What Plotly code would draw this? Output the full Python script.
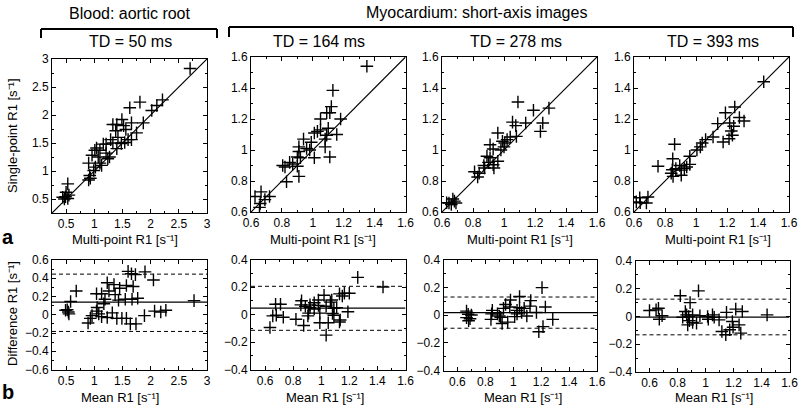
import plotly.graph_objects as go

FONT = "Liberation Sans, Arial, sans-serif"
W, H = 800, 412

# ---------------- data ----------------
# TD = 50 ms (blood)
td50_multi = [2.70, 2.21, 2.11, 2.02, 1.81, 1.63, 1.66, 1.87, 1.49, 1.33, 1.40, 1.52, 1.38, 1.56, 1.75,
              1.42, 1.60, 1.66, 1.48, 1.54, 1.29, 1.33, 1.21, 1.16, 1.04, 1.10, 1.40, 1.01, 0.96, 1.07,
              1.27, 1.21, 1.24, 1.10, 1.13, 0.90, 1.02, 0.99, 0.92, 0.90, 0.93, 0.53, 0.50, 0.44, 0.49,
              0.53, 0.55, 0.47]
td50_single = [2.83, 2.27, 2.17, 2.08, 2.23, 2.13, 1.86, 1.86, 1.92, 1.83, 1.83, 1.81, 1.72, 1.74, 1.68,
               1.60, 1.56, 1.56, 1.49, 1.51, 1.56, 1.50, 1.48, 1.48, 1.41, 1.37, 1.40, 1.37, 1.28, 1.25,
               1.25, 1.32, 1.22, 1.14, 1.10, 1.14, 1.07, 1.01, 0.92, 0.84, 0.87, 0.77, 0.62, 0.53, 0.54,
               0.51, 0.57, 0.50]
td50_mean = [1.60, 1.66, 1.73, 1.90, 2.05, 0.68, 0.58, 0.49, 0.52, 0.54, 0.55, 1.04, 1.13, 1.23, 1.35,
             1.45, 1.57, 1.69, 1.26, 1.37, 1.19, 1.17, 1.43, 1.55, 1.67, 1.77, 2.77, 1.05, 1.04, 1.08,
             0.96, 0.93, 0.89, 1.13, 1.23, 1.32, 1.40, 1.49, 1.57, 1.64, 1.74, 1.89, 2.07, 2.18, 2.27]
td50_diff = [0.475, 0.45, 0.44, 0.47, 0.38, 0.26, 0.145, 0.05, 0.055, 0.03, 0.01, 0.23, 0.23, 0.35, 0.33,
             0.29, 0.32, 0.31, 0.26, 0.22, 0.17, 0.12, 0.16, 0.17, 0.17, 0.18, 0.155, 0.08, 0.04, 0.01,
             -0.01, -0.04, -0.09, -0.02, -0.03, 0.02, -0.04, -0.04, -0.04, -0.10, -0.10, -0.01, 0.04, 0.03, 0.05]
td50_bias, td50_hi, td50_lo = 0.138, 0.445, -0.183

# TD = 164 ms
td164_multi = [1.35, 1.13, 1.12, 1.09, 1.11, 1.05, 1.18, 1.10, 1.03, 1.01, 1.05, 1.09, 1.155, 1.08, 0.94,
               0.99, 0.96, 1.08, 0.91, 0.91, 0.98, 1.01, 1.11, 0.92, 0.90, 0.85, 0.87, 0.805, 0.82, 0.90,
               0.91, 0.83, 0.665, 0.626, 0.72, 0.69, 0.66, 0.655]
td164_single = [1.54, 1.385, 1.28, 1.24, 1.24, 1.20, 1.20, 1.14, 1.12, 1.11, 1.13, 1.095, 1.10, 1.07, 1.07,
                1.05, 1.01, 1.02, 1.02, 0.99, 1.00, 0.95, 0.955, 0.95, 0.955, 0.92, 0.91, 0.90, 0.89, 0.895,
                0.83, 0.795, 0.73, 0.70, 0.70, 0.68, 0.655, 0.63]
td164_mean = [1.26, 1.44, 1.20, 1.165, 1.13, 1.15, 1.02, 1.075, 1.065, 0.98, 0.95, 0.92, 0.86, 0.855, 0.887,
              0.92, 0.95, 0.98, 1.035, 1.11, 1.09, 0.675, 0.71, 0.655, 0.68, 0.73, 0.635, 0.82, 0.875, 0.905,
              0.91, 0.99, 0.99, 1.05, 1.035, 1.08, 1.09, 1.135, 1.13, 1.19]
td164_diff = [0.27, 0.20, 0.155, 0.155, 0.15, 0.135, 0.14, 0.105, 0.09, 0.105, 0.085, 0.07, 0.10, 0.07, 0.06,
              0.05, 0.04, 0.065, 0.06, 0.05, 0.045, 0.075, 0.075, -0.01, -0.005, -0.02, -0.095, -0.035, -0.08, -0.01,
              0.01, 0.01, -0.06, -0.06, -0.15, 0.007, -0.005, -0.04, -0.055, 0.02]
td164_bias, td164_hi, td164_lo = 0.046, 0.205, -0.115

# TD = 278 ms
td278_multi = [1.09, 1.19, 1.29, 1.055, 1.076, 1.14, 1.25, 1.235, 1.08, 0.96, 1.04, 1.02, 0.99, 1.005, 1.00,
               0.91, 0.93, 0.98, 0.89, 0.91, 0.96, 0.90, 0.93, 0.935, 0.87, 0.875, 0.81, 0.84, 0.83, 0.67,
               0.645, 0.63, 0.68, 0.69, 0.66]
td278_single = [1.31, 1.256, 1.27, 1.18, 1.157, 1.174, 1.174, 1.12, 1.088, 1.11, 1.084, 1.067, 1.056, 1.045, 1.02,
                1.034, 1.006, 1.00, 0.96, 0.95, 0.927, 0.92, 0.905, 0.884, 0.90, 0.884, 0.86, 0.85, 0.826, 0.684,
                0.658, 0.66, 0.67, 0.658, 0.648]
td278_mean = [1.206, 1.045, 1.125, 1.12, 0.98, 0.945, 0.975, 1.23, 0.93, 1.045, 1.078, 1.027, 1.06, 1.027, 1.097,
              1.166, 1.01, 0.85, 0.845, 0.84, 0.887, 0.90, 0.91, 0.92, 0.96, 0.665, 0.677, 0.70, 0.69, 0.665,
              0.68, 1.283, 1.213, 1.183]
td278_diff = [0.20, 0.136, 0.106, 0.066, 0.11, 0.078, 0.06, 0.06, 0.05, 0.054, 0.05, 0.035, 0.02, 0.01, -0.005,
              0.02, -0.01, 0.035, 0.01, -0.03, 0.01, -0.005, -0.015, -0.06, -0.05, 0.03, 0.007, 0.002, -0.025, -0.017,
              -0.04, -0.03, -0.082, -0.12]
td278_bias, td278_hi, td278_lo = 0.019, 0.132, -0.094

# TD = 393 ms
td393_multi = [1.437, 1.25, 1.19, 1.28, 1.31, 1.217, 1.14, 1.243, 1.228, 1.235, 1.11, 1.213, 1.175, 1.062, 1.04,
               1.028, 1.006, 0.862, 0.96, 0.96, 0.94, 0.925, 0.905, 0.85, 0.895, 0.87, 0.847, 0.84, 0.852, 0.905,
               0.755, 0.637, 0.69, 0.615, 0.68, 0.64]
td393_single = [1.44, 1.277, 1.24, 1.21, 1.187, 1.174, 1.17, 1.153, 1.123, 1.095, 1.084, 1.073, 1.052, 1.067, 1.045,
                1.02, 1.00, 1.037, 0.96, 0.907, 0.89, 0.88, 0.87, 0.944, 0.90, 0.88, 0.873, 0.85, 0.83, 0.837,
                0.895, 0.692, 0.697, 0.665, 0.658, 0.66]
td393_mean = [0.95, 0.82, 0.89, 0.60, 0.647, 0.664, 0.67, 0.69, 0.856, 0.865, 0.837, 0.88, 0.908, 0.885, 0.873,
              0.908, 0.936, 0.96, 1.015, 1.02, 1.05, 1.062, 1.097, 1.15, 1.216, 1.263, 1.192, 1.24, 1.117, 1.145,
              1.173, 1.197, 1.252, 1.44]
td393_diff = [0.185, 0.15, 0.10, 0.043, 0.048, 0.06, -0.02, 0.005, 0.036, 0.012, -0.005, 0.0, 0.012, -0.03, -0.06,
              -0.043, -0.048, 0.005, 0.0, -0.02, 0.012, -0.005, -0.024, 0.03, 0.053, 0.036, -0.036, -0.06, -0.108, -0.132,
              -0.096, -0.077, -0.12, 0.012]
td393_bias, td393_hi, td393_lo = -0.005, 0.125, -0.132

titles_td = ["TD = 50 ms", "TD = 164 ms", "TD = 278 ms", "TD = 393 ms"]
group_titles = ["Blood: aortic root", "Myocardium: short-axis images"]
xlabel_top = "Multi-point R1 [s\u207b\u00b9]"
xlabel_bottom = "Mean R1 [s\u207b\u00b9]"
ylabel_top = "Single-point R1 [s\u207b\u00b9]"
ylabel_bottom = "Difference R1 [s\u207b\u00b9]"

# ---------------- layout helpers ----------------
def px_x(p):
    return p / W

def px_y(p):
    return 1 - p / H

top_panels = [
    dict(x=(52, 207), y=(59, 213), rng=[0.25, 3], dt=0.5, mdt=0.25,
         xs=td50_multi, ys=td50_single),
    dict(x=(251, 405.5), y=(57, 212), rng=[0.6, 1.6], dt=0.2, mdt=0.1,
         xs=td164_multi, ys=td164_single),
    dict(x=(442, 597), y=(57, 212), rng=[0.6, 1.6], dt=0.2, mdt=0.1,
         xs=td278_multi, ys=td278_single),
    dict(x=(634, 789), y=(57, 212), rng=[0.6, 1.6], dt=0.2, mdt=0.1,
         xs=td393_multi, ys=td393_single),
]
bottom_panels = [
    dict(x=(52, 207), y=(260, 369.5), xr=[0.25, 3], yr=[-0.6, 0.6], xdt=0.5, xmdt=0.25,
         xs=td50_mean, ys=td50_diff, lines=(td50_bias, td50_hi, td50_lo)),
    dict(x=(251, 405.5), y=(259.5, 369.5), xr=[0.5, 1.6], yr=[-0.4, 0.4], xdt=0.2, xmdt=0.1,
         xs=td164_mean, ys=td164_diff, lines=(td164_bias, td164_hi, td164_lo)),
    dict(x=(443.5, 597), y=(260, 370.5), xr=[0.5, 1.6], yr=[-0.4, 0.4], xdt=0.2, xmdt=0.1,
         xs=td278_mean, ys=td278_diff, lines=(td278_bias, td278_hi, td278_lo)),
    dict(x=(635.5, 789.5), y=(261, 372), xr=[0.5, 1.6], yr=[-0.4, 0.4], xdt=0.2, xmdt=0.1,
         xs=td393_mean, ys=td393_diff, lines=(td393_bias, td393_hi, td393_lo)),
]

def axis_style(rng, domain, dtick, mdtick, anchor):
    return dict(
        domain=domain, range=rng, anchor=anchor, autorange=False, automargin=False,
        showline=True, linecolor="black", linewidth=1, mirror="ticks",
        ticks="inside", ticklen=4, tickwidth=1, tickcolor="black",
        tick0=0, dtick=dtick, showgrid=False, zeroline=False,
        tickfont=dict(family=FONT, size=12, color="black"),
        minor=dict(ticks="inside", ticklen=2, tickcolor="black", dtick=mdtick, tick0=0, showgrid=False),
    )

fig = go.Figure()
layout = {}
marker = dict(symbol="cross-thin", size=9, color="black", line=dict(width=1.4, color="black"))

idx = 0
for p in top_panels:
    idx += 1
    sx = "" if idx == 1 else str(idx)
    xa, ya = "x" + sx, "y" + sx
    layout["xaxis" + sx] = axis_style(p["rng"], [px_x(p["x"][0]), px_x(p["x"][1])], p["dt"], p["mdt"], ya)
    layout["yaxis" + sx] = axis_style(p["rng"], [px_y(p["y"][1]), px_y(p["y"][0])], p["dt"], p["mdt"], xa)
    fig.add_trace(go.Scatter(x=p["rng"], y=p["rng"], mode="lines", line=dict(color="black", width=1.2),
                             xaxis=xa, yaxis=ya, showlegend=False, hoverinfo="skip"))
    fig.add_trace(go.Scatter(x=p["xs"], y=p["ys"], mode="markers", marker=marker,
                             xaxis=xa, yaxis=ya, showlegend=False))

for p in bottom_panels:
    idx += 1
    sx = str(idx)
    xa, ya = "x" + sx, "y" + sx
    layout["xaxis" + sx] = axis_style(p["xr"], [px_x(p["x"][0]), px_x(p["x"][1])], p["xdt"], p["xmdt"], ya)
    layout["yaxis" + sx] = axis_style(p["yr"], [px_y(p["y"][1]), px_y(p["y"][0])], 0.2, 0.1, xa)
    bias, hi, lo = p["lines"]
    fig.add_trace(go.Scatter(x=p["xr"], y=[bias, bias], mode="lines", line=dict(color="black", width=1.2),
                             xaxis=xa, yaxis=ya, showlegend=False, hoverinfo="skip"))
    for v in (hi, lo):
        fig.add_trace(go.Scatter(x=p["xr"], y=[v, v], mode="lines",
                                 line=dict(color="black", width=1, dash="4px,3px"),
                                 xaxis=xa, yaxis=ya, showlegend=False, hoverinfo="skip"))
    fig.add_trace(go.Scatter(x=p["xs"], y=p["ys"], mode="markers", marker=marker,
                             xaxis=xa, yaxis=ya, showlegend=False))

annotations = []

def ann(text, x, y, size, angle=0, bold=False):
    annotations.append(dict(
        text=("<b>%s</b>" % text) if bold else text, x=px_x(x), y=px_y(y),
        xref="paper", yref="paper", xanchor="center", yanchor="middle",
        showarrow=False, textangle=angle,
        font=dict(family=FONT, size=size, color="black"),
    ))

ann(group_titles[0], 130, 14, 16)
ann(group_titles[1], 476, 13, 16)
for t, cx in zip(titles_td, [130, 319, 516, 713]):
    ann(t, cx, 42, 16)
for cx in [125, 323, 520, 718]:
    ann(xlabel_top, cx, 240, 13)
for cx in [120, 325, 523, 714]:
    ann(xlabel_bottom, cx, 397, 13)
ann(ylabel_top, 12, 136, 13, angle=-90)
ann(ylabel_bottom, 12, 314, 13, angle=-90)
ann("a", 8, 237, 20, bold=True)
ann("b", 8, 392, 20, bold=True)

shapes = []
def seg(x0, y0, x1, y1):
    shapes.append(dict(type="line", xref="paper", yref="paper",
                       x0=px_x(x0), y0=px_y(y0), x1=px_x(x1), y1=px_y(y1),
                       line=dict(color="black", width=2)))

# brackets
seg(41, 29, 217, 29); seg(41, 29, 41, 38); seg(217, 29, 217, 38)
seg(229, 27, 793, 27); seg(229, 27, 229, 37); seg(793, 27, 793, 37)

fig.update_layout(
    **layout,
    width=W, height=H,
    margin=dict(l=0, r=0, t=0, b=0, pad=0, autoexpand=False),
    paper_bgcolor="white", plot_bgcolor="white",
    annotations=annotations, shapes=shapes,
    font=dict(family=FONT, color="black"),
)

fig.write_html("out.html", config={"displayModeBar": False, "staticPlot": True},
               post_script="document.body.style.margin='0';document.body.style.overflow='hidden';")
